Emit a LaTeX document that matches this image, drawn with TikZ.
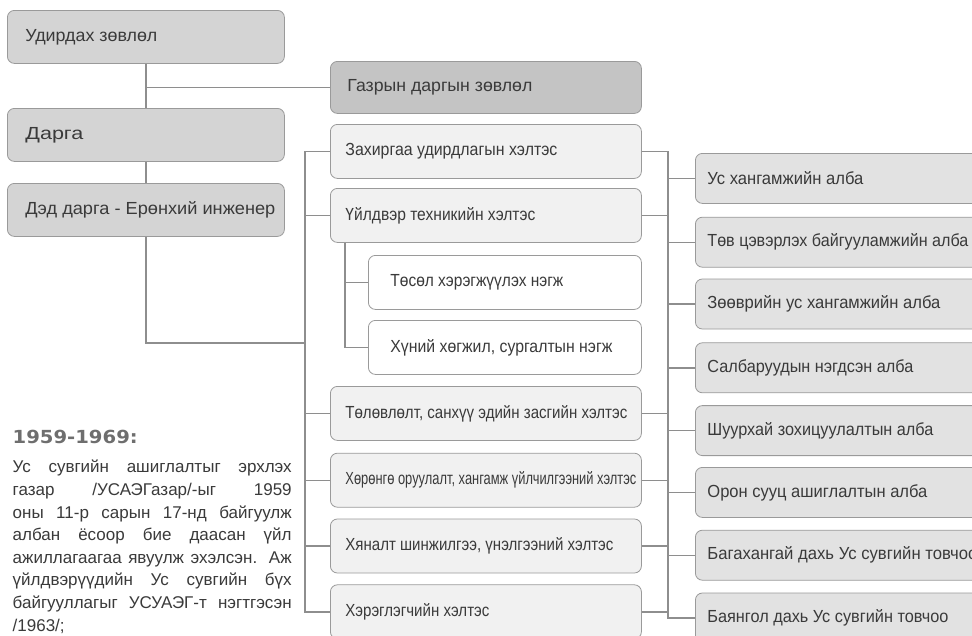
\documentclass[tikz,border=0pt]{standalone}
\usepackage{fontspec}
\setmainfont{Liberation Sans}
\newfontfamily\headfont{DejaVu Sans}
\usepackage{xcolor}
\usetikzlibrary{positioning}
\definecolor{linec}{HTML}{8E8E8E}
\definecolor{boxline}{HTML}{9A9A9A}
\definecolor{textc}{HTML}{3A3A3A}
\definecolor{leadfill}{HTML}{D4D4D4}
\definecolor{councilfill}{HTML}{C4C4C4}
\definecolor{deptfill}{HTML}{F1F1F1}
\definecolor{officefill}{HTML}{E2E2E2}
\definecolor{headc}{HTML}{6E6E6E}
\newcommand\fitw[2]{\resizebox{#1pt}{\height}{#2}}

\begin{document}
\begin{tikzpicture}[x=1pt,y=-1pt,line width=1.4pt,
  box/.style={draw=boxline,line width=0.8pt,rounded corners=7pt,anchor=north west,
    minimum height=54pt,text=textc,font=\fontsize{17.5}{20}\selectfont,
    execute at end node={\hfil\egroup}},
  lead box/.style={box,fill=leadfill,inner xsep=18pt,minimum height=53pt,
    execute at begin node={\hbox to 241pt\bgroup}},
  council box/.style={box,fill=councilfill,inner xsep=17pt,minimum height=52pt,
    execute at begin node={\hbox to 277pt\bgroup}},
  dept box/.style={box,fill=deptfill,inner xsep=15pt,execute at begin node={\hbox to 281pt\bgroup}},
  unit box/.style={box,fill=white,inner xsep=22pt,execute at begin node={\hbox to 229pt\bgroup}},
  office box/.style={box,fill=officefill,inner xsep=12pt,minimum height=50pt,
    execute at begin node={\hbox to 281pt\bgroup}}]
  \clip (0,0) rectangle (972,635);
  \fill[white] (0,0) rectangle (972,635);

  \node[lead box] (board) at (7,10) {\fitw{132}{Удирдах зөвлөл}};
  \node[lead box] (chief) at (7,108) {\fitw{58}{Дарга}};
  \node[lead box] (deputy) at (7,183) {\fitw{250}{Дэд дарга - Ерөнхий инженер}};
  \node[council box] (council) at (330,61) {\fitw{185}{Газрын даргын зөвлөл}};

  \node[dept box] (adm) at (330,124) {\fitw{212}{Захиргаа удирдлагын хэлтэс}};
  \node[dept box] (tech) at (330,188) {\fitw{190}{Үйлдвэр техникийн хэлтэс}};
  \node[unit box] (proj) at (368,255) {\fitw{173}{Төсөл хэрэгжүүлэх нэгж}};
  \node[unit box] (hr) at (368,320) {\fitw{222}{Хүний хөгжил, сургалтын нэгж}};
  \node[dept box] (plan) at (330,386) {\fitw{282}{Төлөвлөлт, санхүү эдийн засгийн хэлтэс}};
  \node[dept box] (inv) [below=12pt of plan] {\fitw{291}{Хөрөнгө оруулалт, хангамж үйлчилгээний хэлтэс}};
  \node[dept box] (audit) [below=11pt of inv] {\fitw{268}{Хяналт шинжилгээ, үнэлгээний хэлтэс}};
  \node[dept box] (cust) [below=11pt of audit] {\fitw{144}{Хэрэглэгчийн хэлтэс}};

  \node[office box] (o1) at (695,153) {\fitw{156}{Ус хангамжийн алба}};
  \node[office box] (o2) [below=13pt of o1] {\fitw{261}{Төв цэвэрлэх байгууламжийн алба}};
  \node[office box] (o3) [below=11pt of o2] {\fitw{233}{Зөөврийн ус хангамжийн алба}};
  \node[office box] (o4) [below=13pt of o3] {\fitw{206}{Салбаруудын нэгдсэн алба}};
  \node[office box] (o5) [below=12pt of o4] {\fitw{226}{Шуурхай зохицуулалтын алба}};
  \node[office box] (o6) [below=11pt of o5] {\fitw{220}{Орон сууц ашиглалтын алба}};
  \node[office box] (o7) [below=12pt of o6] {\fitw{270}{Багахангай дахь Ус сувгийн товчоо}};
  \node[office box] (o8) [below=12pt of o7] {\fitw{241}{Баянгол дахь Ус сувгийн товчоо}};

  \node[anchor=west,inner sep=0pt,text=headc,font=\headfont\fontsize{18}{20}\bfseries] (yr) at (12,437)
    {\fitw{125}{1959-1969:}};
  \node[text=textc,text width=279pt,align=justify,inner sep=0pt,
    font=\fontsize{17}{22.6}\selectfont]
    (hist) [below=15pt of yr.south west,anchor=north west]
    {\hyphenpenalty=10000
     Ус сувгийн ашиглалтыг эрхлэх\linebreak газар /УСАЭГазар/-ыг 1959\linebreak
     оны 11-р сарын 17-нд байгуулж\linebreak албан ёсоор бие даасан үйл\linebreak
     ажиллагаагаа явуулж эхэлсэн. Аж\linebreak үйлдвэрүүдийн Ус сувгийн бүх\linebreak
     байгууллагыг УСУАЭГ-т нэгтгэсэн\linebreak /1963/;};

  \coordinate (lbus) at (305,0);
  \coordinate (sbus) at (345,0);
  \coordinate (rbus) at (668,0);
  \coordinate (dj) at (305,343);

  \draw[linec] (board) -- (chief);
  \draw[linec] (chief) -- (deputy);
  \draw[linec] (board.south |- council.west) -- (council.west);
  \draw[linec] (deputy.south) |- (dj);

  \draw[linec] (adm.west) -| (lbus |- cust.west) -- (cust.west);
  \draw[linec] (tech.west) -- (lbus |- tech.west);
  \draw[linec] (plan.west) -- (lbus |- plan.west);
  \draw[linec] (inv.west) -- (lbus |- inv.west);
  \draw[linec] (audit.west) -- (lbus |- audit.west);

  \draw[linec] (sbus |- tech.south) |- (hr.west);
  \draw[linec] (sbus |- proj.west) -- (proj.west);

  \draw[linec] (adm.east) -| (rbus |- o8.west) -- (o8.west);
  \draw[linec] (tech.east) -- (rbus |- tech.east);
  \draw[linec] (plan.east) -- (rbus |- plan.east);
  \draw[linec] (inv.east) -- (rbus |- inv.east);
  \draw[linec] (audit.east) -- (rbus |- audit.east);
  \draw[linec] (cust.east) -- (rbus |- cust.east);
  \draw[linec] (rbus |- o1.west) -- (o1.west);
  \draw[linec] (rbus |- o2.west) -- (o2.west);
  \draw[linec] (rbus |- o3.west) -- (o3.west);
  \draw[linec] (rbus |- o4.west) -- (o4.west);
  \draw[linec] (rbus |- o5.west) -- (o5.west);
  \draw[linec] (rbus |- o6.west) -- (o6.west);
  \draw[linec] (rbus |- o7.west) -- (o7.west);
\end{tikzpicture}
\end{document}
